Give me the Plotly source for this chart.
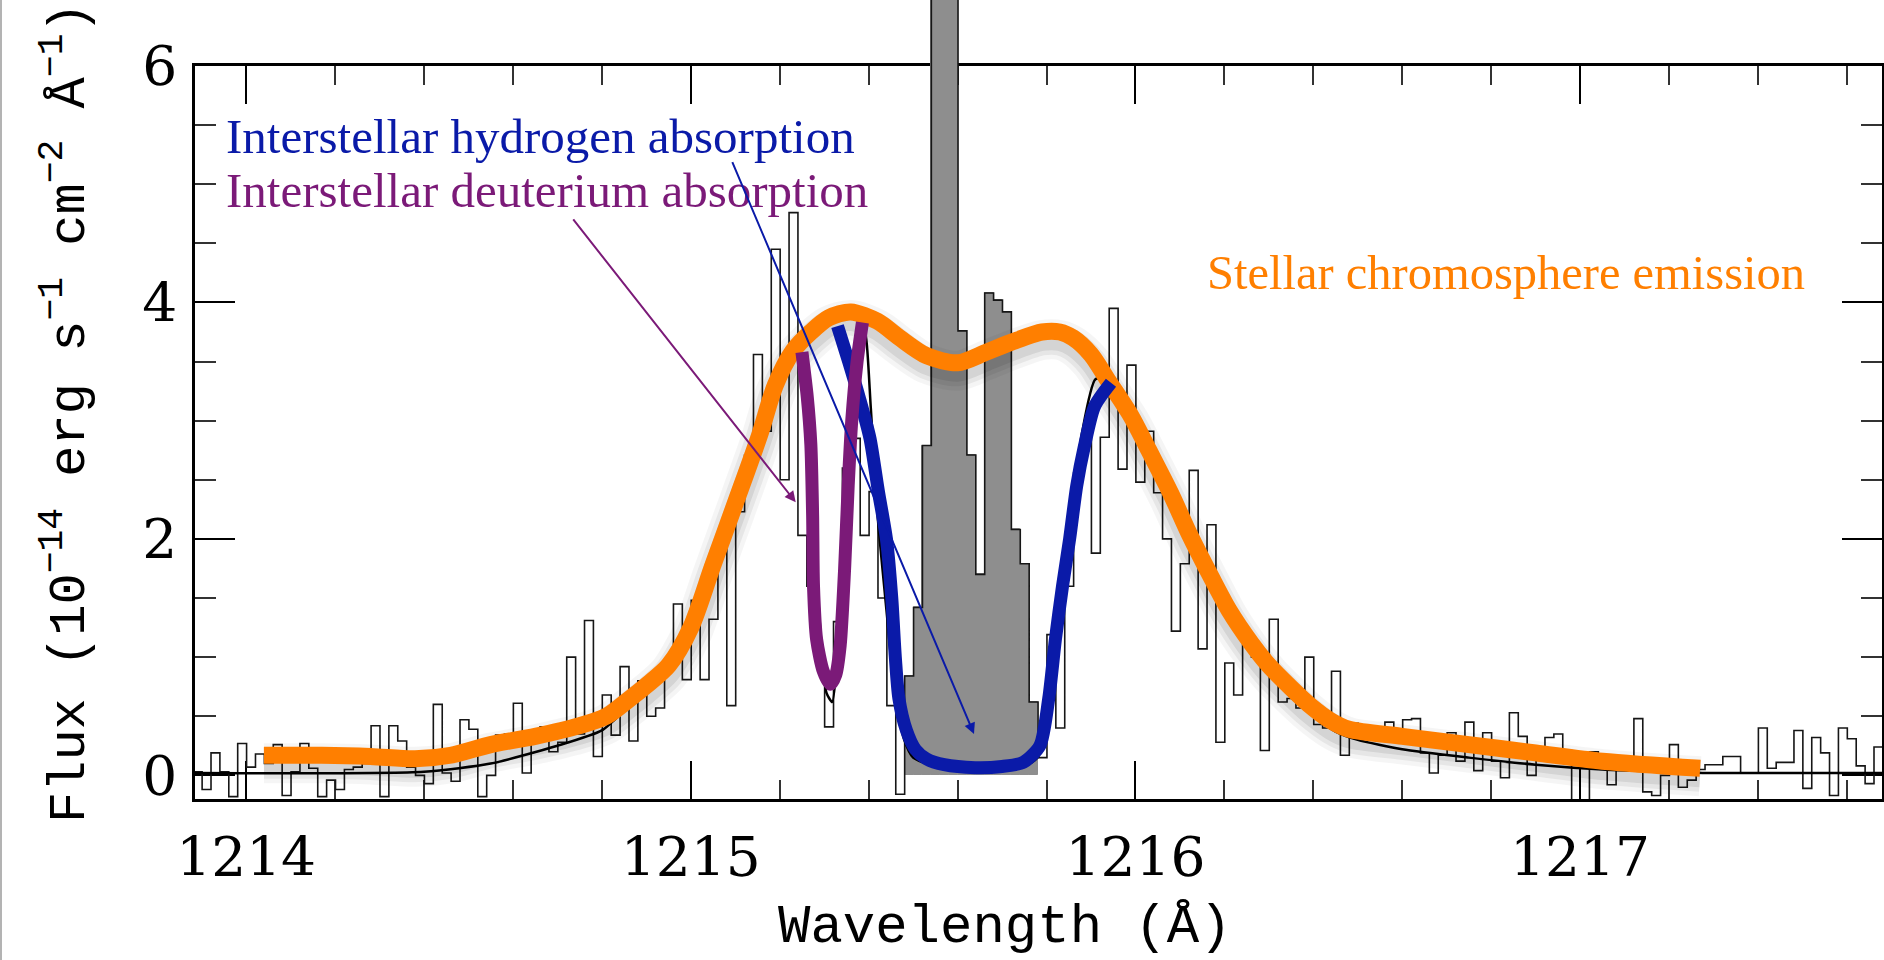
import numpy as np
import plotly.graph_objects as go

# ---------------- data ----------------
# observed spectrum: regular pixel grid, one flux value per 0.02 A bin
bin_start = 1213.861          # left edge of the first bin (Angstrom)
bin_width = 0.02              # Angstrom
flux = [
    0.00, 0.03, -0.12, 0.19, 0.03, -0.18, 0.27, 0.07, 0.18, 0.10,
    0.26, -0.17, 0.03, 0.27, 0.06, -0.18, -0.04, -0.12, 0.05, 0.07,
    0.10, 0.42, -0.18, 0.42, 0.29, 0.07, 0.00, -0.07, 0.60, 0.02,
    -0.05, 0.47, 0.39, -0.18, 0.00, 0.34, 0.35, 0.61, 0.02, 0.30,
    0.41, 0.20, 0.28, 1.00, 0.35, 1.31, 0.16, 0.68, 0.34, 0.92,
    0.29, 0.80, 0.50, 0.57, 0.97, 1.45, 0.81, 1.48, 0.81, 1.32,
    2.04, 0.59, 2.23, 2.71, 3.56, 2.91, 4.45, 2.50, 4.76, 2.03,
    1.60, 1.00, 0.41, 1.30, 2.60, 2.85, 2.03, 2.40, 1.50, 0.59,
    -0.16, 0.84, 1.42, 2.79, 6.80, 6.80, 6.80, 3.76, 2.71, 1.70,
    4.08, 4.02, 3.92, 2.08, 1.79, 0.62, 0.15, 1.19, 0.40, 1.60,
    2.56, 2.90, 1.88, 2.86, 3.95, 2.59, 3.47, 2.48, 2.91, 2.39,
    2.00, 1.22, 1.79, 2.58, 1.07, 2.12, 0.28, 0.95, 0.68, 1.15,
    1.00, 0.21, 1.32, 0.62, 0.65, 0.57, 1.00, 0.43, 0.40, 0.88,
    0.17, 0.44, 0.42, 0.41, 0.40, 0.45, 0.30, 0.47, 0.48, 0.19,
    0.02, 0.17, 0.36, 0.12, 0.45, 0.04, 0.36, 0.12, -0.02, 0.53,
    0.33, 0.00, 0.24, 0.32, 0.35, 0.21, -0.25, -0.25, 0.20, 0.15,
    -0.08, 0.08, 0.15, 0.48, -0.14, -0.17, 0.00, 0.26, -0.10, -0.04,
    0.05, 0.09, 0.09, 0.16, 0.16, 0.02, 0.02, 0.40, 0.06, 0.11,
    0.11, 0.38, -0.11, 0.32, 0.19, -0.17, 0.40, 0.31, 0.08, -0.07,
    0.24, 0.30,
]
# bins contaminated by geocoronal emission (drawn filled grey)
geo_first, geo_last = 81, 95

# stellar chromosphere (intrinsic) emission profile
intr_wl = [1214.04, 1214.17, 1214.28, 1214.38, 1214.46, 1214.55, 1214.65, 1214.75,
           1214.81, 1214.86, 1214.90, 1214.95, 1215.00, 1215.05, 1215.10, 1215.155,
           1215.19, 1215.23, 1215.27, 1215.31, 1215.36, 1215.42, 1215.47, 1215.53,
           1215.60, 1215.665, 1215.725, 1215.79, 1215.83, 1215.86, 1215.90, 1215.94,
           1215.99, 1216.03, 1216.08, 1216.12, 1216.17, 1216.21, 1216.26, 1216.30,
           1216.35, 1216.39, 1216.44, 1216.48, 1216.60, 1216.75, 1216.90, 1217.05,
           1217.27]
intr_flux = [0.17, 0.17, 0.16, 0.14, 0.17, 0.26, 0.33, 0.42,
             0.50, 0.64, 0.76, 0.93, 1.25, 1.78, 2.30, 2.88,
             3.30, 3.59, 3.75, 3.87, 3.92, 3.84, 3.70, 3.55,
             3.49, 3.58, 3.67, 3.75, 3.75, 3.70, 3.56, 3.33,
             3.04, 2.75, 2.38, 2.05, 1.68, 1.40, 1.12, 0.93,
             0.74, 0.60, 0.46, 0.39, 0.33, 0.26, 0.19, 0.12,
             0.06]

# interstellar hydrogen absorption
h_wl = [1215.330, 1215.355, 1215.380, 1215.403, 1215.422, 1215.440, 1215.452, 1215.460,
        1215.468, 1215.485, 1215.505, 1215.530, 1215.570, 1215.640, 1215.700, 1215.748,
        1215.785, 1215.805, 1215.820, 1215.836, 1215.852, 1215.868, 1215.885, 1215.908,
        1215.945]
h_flux = [3.80, 3.50, 3.18, 2.85, 2.40, 2.00, 1.50, 1.00,
          0.65, 0.38, 0.22, 0.14, 0.09, 0.065, 0.075, 0.11,
          0.25, 0.65, 1.15, 1.60, 2.00, 2.45, 2.78, 3.12,
          3.32]

# interstellar deuterium absorption
d_wl = [1215.250, 1215.262, 1215.270, 1215.274, 1215.276, 1215.283, 1215.298, 1215.314,
        1215.326, 1215.336, 1215.346, 1215.354, 1215.362, 1215.374, 1215.386]
d_flux = [3.58, 3.20, 2.80, 2.20, 1.60, 1.15, 0.88, 0.77,
          0.85, 1.10, 1.75, 2.45, 3.00, 3.50, 3.83]

# fitted model (thin black line)
model_wl = [1213.86, 1214.40, 1214.55, 1214.70, 1214.80, 1214.86, 1214.92, 1214.97,
            1215.02, 1215.06, 1215.10, 1215.15, 1215.20, 1215.24, 1215.26, 1215.275,
            1215.29, 1215.305, 1215.318, 1215.33, 1215.345, 1215.36, 1215.375, 1215.39,
            1215.405, 1215.42, 1215.44, 1215.46, 1215.48, 1215.50, 1215.55, 1215.75,
            1215.78, 1215.80, 1215.82, 1215.85, 1215.88, 1215.91, 1215.94, 1215.99,
            1216.05, 1216.10, 1216.15, 1216.20, 1216.25, 1216.30, 1216.35, 1216.40,
            1216.45, 1216.50, 1216.60, 1216.75, 1216.90, 1217.05, 1217.20, 1217.30,
            1217.70]
model_flux = [0.02, 0.03, 0.10, 0.25, 0.38, 0.58, 0.76, 1.00,
              1.38, 1.80, 2.22, 2.75, 3.28, 3.55, 3.30, 2.30,
              1.30, 0.70, 0.62, 1.00, 2.00, 3.10, 3.70, 3.78,
              3.10, 2.20, 1.40, 0.65, 0.30, 0.15, 0.08, 0.08,
              0.15, 0.45, 1.20, 2.10, 2.90, 3.35, 3.35, 3.00,
              2.55, 2.15, 1.78, 1.42, 1.12, 0.86, 0.66, 0.50,
              0.37, 0.30, 0.22, 0.15, 0.09, 0.05, 0.03, 0.02,
              0.02]

x_tick_vals = [1214, 1215, 1216, 1217]
x_tick_text = ["1214", "1215", "1216", "1217"]
y_tick_vals = [0, 2, 4, 6]
y_tick_text = ["0", "2", "4", "6"]

# ---------------- colours / geometry ----------------
ORANGE = "#ff7f00"
BLUE = "#0a1aa8"
PURPLE = "#7b1a78"
GREY = "#8e8e8e"

W, H = 1884, 960
ML, MR, MT, MB = 195, 2, 0, 161
plot_h = H - MT - MB
ymin, yframe = -0.2, 6.0
frame_top_px = 66
K = (plot_h - frame_top_px) / (yframe - ymin)      # px per flux unit
ytop = ymin + plot_h / K
pdom = (yframe - ymin) / (ytop - ymin)
shadow_shift = 8 / K

xr = [1213.885, 1217.679]

centers = bin_start + bin_width * (np.arange(len(flux)) + 0.5)
flux_arr = np.array(flux)

fig = go.Figure()

# frame subplot (axes only)
fig.add_trace(go.Scatter(x=[], y=[], xaxis="x", yaxis="y", showlegend=False))

# observed histogram
fig.add_trace(go.Scatter(x=centers, y=flux_arr, mode="lines", line=dict(color="#161616", width=1.6, shape="hvh"),
                         xaxis="x", yaxis="y2", showlegend=False, hoverinfo="skip"))
# geocoronal grey
fig.add_trace(go.Bar(x=centers[geo_first:geo_last + 1], y=flux_arr[geo_first:geo_last + 1], width=bin_width,
                     marker=dict(color=GREY, line=dict(color=GREY, width=1)),
                     xaxis="x", yaxis="y2", showlegend=False, hoverinfo="skip"))
# model line
fig.add_trace(go.Scatter(x=model_wl, y=model_flux, mode="lines", line=dict(color="black", width=2.5, shape="spline", smoothing=0.6),
                         xaxis="x", yaxis="y2", showlegend=False, hoverinfo="skip"))

# soft shadow under the orange profile
for wdt, a in [(40, 0.04), (31, 0.06), (22, 0.08)]:
    fig.add_trace(go.Scatter(x=intr_wl, y=intr_flux, mode="lines",
                             line=dict(color=f"rgba(0,0,0,{a})", width=wdt, shape="spline", smoothing=0.8),
                             xaxis="x", yaxis="y3", showlegend=False, hoverinfo="skip"))

# coloured profiles
fig.add_trace(go.Scatter(x=intr_wl, y=intr_flux, mode="lines", line=dict(color=ORANGE, width=17, shape="spline", smoothing=0.8),
                         xaxis="x", yaxis="y4", showlegend=False, hoverinfo="skip"))
fig.add_trace(go.Scatter(x=h_wl, y=h_flux, mode="lines", line=dict(color=BLUE, width=13, shape="spline", smoothing=0.7),
                         xaxis="x", yaxis="y4", showlegend=False, hoverinfo="skip"))
fig.add_trace(go.Scatter(x=d_wl, y=d_flux, mode="lines", line=dict(color=PURPLE, width=13, shape="spline", smoothing=0.7),
                         xaxis="x", yaxis="y4", showlegend=False, hoverinfo="skip"))

tickfont = dict(family="DejaVu Serif", size=55, color="black")
hidden = dict(domain=[0, 1], anchor="x", visible=False, showgrid=False, zeroline=False, automargin=False)
fig.update_layout(
    width=W, height=H,
    margin=dict(l=ML, r=MR, t=MT, b=MB, pad=0, autoexpand=False),
    paper_bgcolor="white", plot_bgcolor="rgba(0,0,0,0)",
    showlegend=False, barmode="overlay", bargap=0,
    xaxis=dict(range=xr, anchor="y", tickmode="array", tickvals=x_tick_vals, ticktext=x_tick_text,
               ticks="inside", ticklen=38, tickwidth=2, tickcolor="black", automargin=False,
               showline=True, linewidth=2.5, linecolor="black", mirror="ticks",
               showgrid=False, zeroline=False, tickfont=tickfont, ticklabelstandoff=8,
               minor=dict(tickmode="linear", tick0=1214, dtick=0.2, ticks="inside", ticklen=19,
                          tickwidth=1.5, tickcolor="#333", showgrid=False)),
    yaxis=dict(domain=[0, pdom], range=[ymin, yframe], anchor="x", tickmode="array",
               tickvals=y_tick_vals, ticktext=y_tick_text, automargin=False,
               ticks="inside", ticklen=40, tickwidth=2, tickcolor="black",
               showline=True, linewidth=2.5, linecolor="black", mirror="ticks",
               showgrid=False, zeroline=False, tickfont=tickfont, ticklabelstandoff=4,
               minor=dict(tickmode="linear", tick0=0, dtick=0.5, ticks="inside", ticklen=21,
                          tickwidth=1.5, tickcolor="#333", showgrid=False)),
    yaxis2=dict(range=[ymin, ytop], **hidden),
    yaxis3=dict(range=[ymin + shadow_shift, ytop + shadow_shift], **hidden),
    yaxis4=dict(range=[ymin, ytop], **hidden),
)

pw = W - ML - MR


def px(xp):
    return (xp - ML) / pw


def py(yp):
    return (plot_h - yp) / plot_h


annos = [
    dict(text="Interstellar hydrogen absorption", x=px(224), y=py(137), xref="paper", yref="paper",
         xanchor="left", yanchor="middle", showarrow=False,
         font=dict(family="Liberation Serif", size=49, color=BLUE)),
    dict(text="Interstellar deuterium absorption", x=px(224), y=py(191), xref="paper", yref="paper",
         xanchor="left", yanchor="middle", showarrow=False,
         font=dict(family="Liberation Serif", size=49, color=PURPLE)),
    dict(text="Stellar chromosphere emission", x=px(1205), y=py(272), xref="paper", yref="paper",
         xanchor="left", yanchor="middle", showarrow=False,
         font=dict(family="Liberation Serif", size=48.5, color=ORANGE)),
    # arrows
    dict(text="", x=1215.236, y=2.31, xref="x", yref="y4", ax=1214.733, ay=4.715, axref="x", ayref="y4",
         showarrow=True, arrowhead=2, arrowsize=1.1, arrowwidth=2, arrowcolor=PURPLE, standoff=0),
    dict(text="", x=1215.637, y=0.35, xref="x", yref="y4", ax=1215.092, ay=5.20, axref="x", ayref="y4",
         showarrow=True, arrowhead=2, arrowsize=1.1, arrowwidth=2, arrowcolor=BLUE, standoff=0),
    # axis titles
    dict(text="Wavelength (Å)", x=px(1005), y=py(928), xref="paper", yref="paper",
         xanchor="center", yanchor="middle", showarrow=False,
         font=dict(family="Liberation Mono", size=54, color="black")),
    dict(text="Flux (10<sup>−14</sup> erg s<sup>−1</sup> cm<sup>−2</sup> Å<sup>−1</sup>)",
         x=px(66), y=py(413), xref="paper", yref="paper", textangle=-90,
         xanchor="center", yanchor="middle", showarrow=False,
         font=dict(family="Liberation Mono", size=52, color="black")),
]
fig.update_layout(annotations=annos)

# thin border at the very left edge of the picture
fig.add_shape(type="line", xref="paper", yref="paper", x0=px(1), x1=px(1), y0=py(H - MT), y1=py(0),
              line=dict(color="#9a9a9a", width=1.5))

fig.write_html("out.html")
